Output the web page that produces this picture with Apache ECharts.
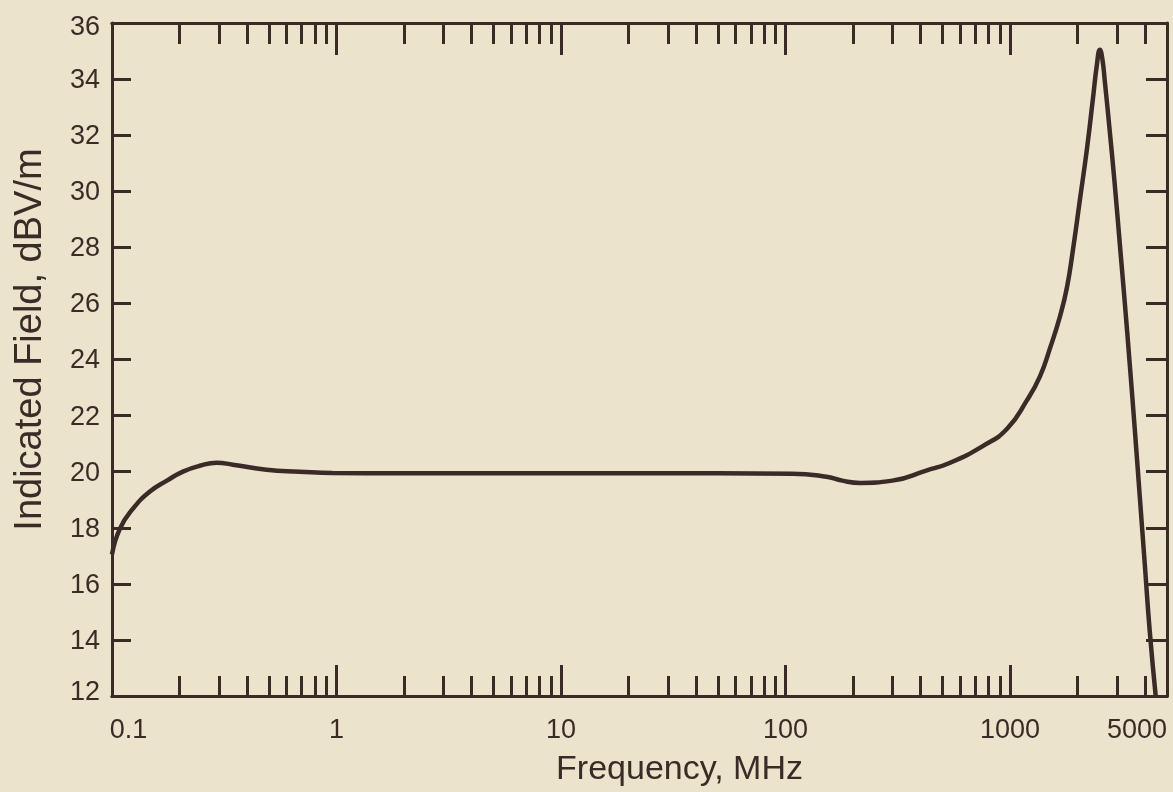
<!DOCTYPE html>
<html>
<head>
<meta charset="utf-8">
<script src="https://cdn.jsdelivr.net/npm/echarts@6/dist/echarts.min.js"></script>
<style>
  html, body { margin: 0; padding: 0; background: #ebe3cc; }
  #chart { width: 1173px; height: 792px; }
</style>
</head>
<body>
<div id="chart"></div>
<script>
// ---- data ----
const freqMHz = [0.1, 0.1085, 0.124, 0.1475, 0.1756, 0.207, 0.246, 0.293, 0.345, 0.488, 0.684, 0.96,
  1.9, 5, 20, 50, 107, 152, 179, 215, 299, 423, 541, 759, 970, 1190, 1359, 1506, 1670, 1790, 1905,
  2047, 2199, 2336, 2435, 2512, 2578, 2644, 2783, 2929, 3083, 3245, 3415, 3594, 3783, 3981, 4190, 4453];
const fieldDBV = [17.05, 17.97, 18.68, 19.29, 19.68, 20.0, 20.21, 20.32, 20.25, 20.07, 20.0, 19.95,
  19.94, 19.94, 19.94, 19.94, 19.93, 19.82, 19.68, 19.6, 19.68, 20.04, 20.32, 20.92, 21.53, 22.55, 23.4,
  24.4, 25.55, 26.55, 27.9, 29.7, 31.5, 33.26, 34.5, 35.05, 34.7, 33.9, 32.1, 30.2, 28.1, 26.0, 23.8,
  21.5, 19.1, 16.7, 14.3, 12.0];
const xLabelValues = [0.1, 1, 10, 100, 1000, 5000];
const xMajorTicks = [1, 10, 100, 1000];
const xMinorTicks = [0.2, 0.3, 0.4, 0.5, 0.6, 0.7, 0.8, 0.9,
  2, 3, 4, 5, 6, 7, 8, 9,
  20, 30, 40, 50, 60, 70, 80, 90,
  200, 300, 400, 500, 600, 700, 800, 900,
  2000, 3000, 4000];
const yMin = 12, yMax = 36, yStep = 2;
const xMinF = 0.1, xMaxF = 5000;

// ---- build ----
const ink = '#3a2b27';
const lg = Math.log10;
const xMin = lg(xMinF), xMax = lg(xMaxF);
const seriesData = freqMHz.map((f, i) => [lg(f), fieldDBV[i]]);
const fontFam = 'Liberation Sans, Arial, Helvetica, sans-serif';

function baseX(extra) {
  return Object.assign({
    type: 'value', min: xMin, max: xMax,
    splitLine: { show: false },
    axisLine: { show: true, onZero: false, lineStyle: { color: ink, width: 3 } },
    axisLabel: { show: false }
  }, extra);
}

const labelFont = { fontFamily: fontFam, fontSize: 27, color: ink };

const option = {
  backgroundColor: '#ebe3cc',
  animation: false,
  grid: { left: 112, right: 6, top: 23, bottom: 94, show: false },
  xAxis: [
    baseX({
      position: 'bottom',
      name: 'Frequency, MHz',
      nameLocation: 'middle',
      nameGap: 57,
      nameTextStyle: { fontFamily: fontFam, fontSize: 34, color: ink, padding: [0, 0, 0, 80] },
      axisTick: { show: true, inside: true, length: 31, customValues: xMajorTicks.map(lg), lineStyle: { color: ink, width: 3 } },
      axisLabel: Object.assign({
        show: true, margin: 21,
        customValues: xLabelValues.map(lg),
        formatter: function (v) {
          for (let i = 0; i < xLabelValues.length; i++) {
            if (Math.abs(lg(xLabelValues[i]) - v) < 1e-6) {
              if (i === 0) return '{l|' + xLabelValues[i] + '}';
              if (i === xLabelValues.length - 1) return '{r|' + xLabelValues[i] + '}';
              return String(xLabelValues[i]);
            }
          }
          return '';
        },
        rich: {
          l: Object.assign({ padding: [0, 0, 0, 33] }, labelFont),
          r: Object.assign({ padding: [0, 60, 0, 0] }, labelFont)
        }
      }, labelFont)
    }),
    baseX({
      position: 'bottom',
      axisTick: { show: true, inside: true, length: 20, customValues: xMinorTicks.map(lg), lineStyle: { color: ink, width: 3 } }
    }),
    baseX({
      position: 'top',
      axisTick: { show: true, inside: true, length: 32, customValues: xMajorTicks.map(lg), lineStyle: { color: ink, width: 3 } }
    }),
    baseX({
      position: 'top',
      axisTick: { show: true, inside: true, length: 21, customValues: xMinorTicks.map(lg), lineStyle: { color: ink, width: 3 } }
    })
  ],
  yAxis: [
    {
      type: 'value', position: 'left', min: yMin, max: yMax, interval: yStep,
      name: 'Indicated Field, dBV/m',
      nameLocation: 'middle',
      nameGap: 62,
      nameTextStyle: { fontFamily: fontFam, fontSize: 38, color: ink, padding: [0, 0, 0, 40] },
      splitLine: { show: false },
      axisLine: { show: true, onZero: false, lineStyle: { color: ink, width: 3 } },
      axisTick: { show: true, inside: true, length: 19, lineStyle: { color: ink, width: 3 } },
      axisLabel: Object.assign({
        margin: 12,
        formatter: function (v) {
          if (v === yMax) return '{t|' + v + '}';
          if (v === yMin) return '{b|' + v + '}';
          return '{n|' + v + '}';
        },
        rich: {
          t: Object.assign({ padding: [10, 0, 0, 0] }, labelFont),
          b: Object.assign({ padding: [0, 0, 6, 0] }, labelFont),
          n: Object.assign({ padding: [3, 0, 0, 0] }, labelFont)
        }
      }, labelFont)
    },
    {
      type: 'value', position: 'right', min: yMin, max: yMax, interval: yStep,
      splitLine: { show: false },
      axisLine: { show: true, onZero: false, lineStyle: { color: ink, width: 3 } },
      axisTick: { show: true, inside: true, length: 21, lineStyle: { color: ink, width: 3 } },
      axisLabel: { show: false }
    }
  ],
  series: [{
    type: 'line',
    xAxisIndex: 0, yAxisIndex: 0,
    data: seriesData,
    smooth: 0.5,
    symbol: 'none',
    clip: true,
    lineStyle: { color: ink, width: 4.5 }
  }]
};

const chart = echarts.init(document.getElementById('chart'), null, { renderer: 'canvas' });
chart.setOption(option);
</script>
</body>
</html>
